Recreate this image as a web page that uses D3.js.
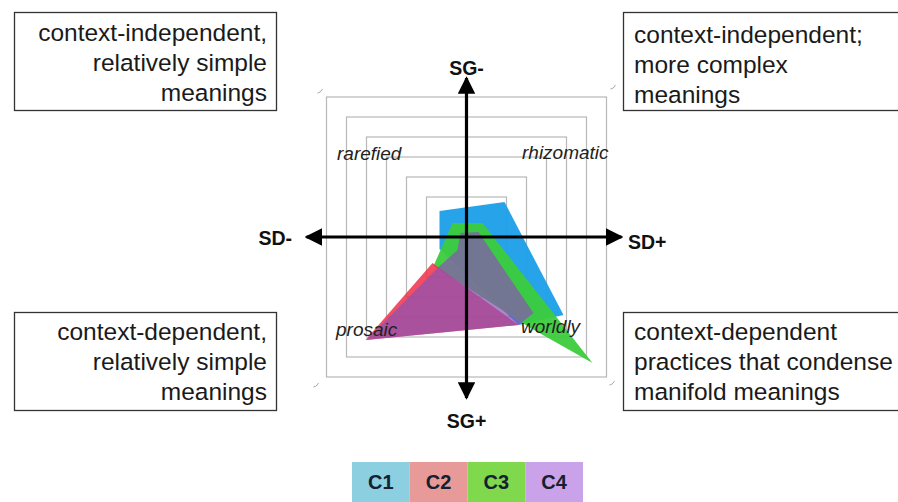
<!DOCTYPE html>
<html><head><meta charset="utf-8">
<script src="https://cdn.jsdelivr.net/npm/d3@7"></script>
<style>body{margin:0;background:#fff}svg{display:block}text{font-family:"Liberation Sans",Arial,sans-serif}</style>
</head><body><svg id="c" width="898" height="502"></svg>
<script>
// ---- data ----
const rings = [2, 3, 4, 5, 6, 7];
const seriesNames = ["C1", "C2", "C3", "C4"];
const seriesC1 = [[-1.35, 1.3], [1.9, 1.75], [4.85, -3.9], [2.6, -4.4], [-1.35, -0.6]];
const seriesC2 = [[-5.05, -5.15], [-1.7, -1.3], [2.6, -4.4]];
const seriesC3 = [[-0.7, 0.7], [0.8, 0.7], [6.3, -6.3], [3.2, -4.55], [-1.65, -1.45]];
const seriesC4 = [[-0.3, 0.2], [0.6, 0.25], [3.35, -3.8], [2.6, -4.4], [-5.0, -5.15], [-1.45, -1.55], [-0.45, -0.65]];
const quadrantLabels = ["rarefied", "rhizomatic", "prosaic", "worldly"];
const axisLabels = ["SG-", "SG+", "SD-", "SD+"];
const boxTL = ["context-independent,", "relatively simple", "meanings"];
const boxTR = ["context-independent;", "more complex", "meanings"];
const boxBL = ["context-dependent,", "relatively simple", "meanings"];
const boxBR = ["context-dependent", "practices that condense", "manifold meanings"];

const svg = d3.select("#c");
const x = d3.scaleLinear().domain([-8, 8]).range([306.5, 626.5]);
const y = d3.scaleLinear().domain([-8, 8]).range([397, 77]);

// rings
svg.append("g").selectAll("rect").data(rings).join("rect")
  .attr("x", d => x(-d)).attr("y", d => y(d))
  .attr("width", d => x(d) - x(-d)).attr("height", d => y(-d) - y(d))
  .attr("fill", "none").attr("stroke", "#b8b8b8").attr("stroke-width", 1.2);

// corner marks
const cm = [[-7.3, 7.3], [7.35, 7.5], [-7.5, -7.4], [7.3, -7.3]];
svg.append("g").selectAll("path").data(cm).join("path")
  .attr("d", d => `M${x(d[0]) - 3},${y(d[1]) + 2} q3,0 5,-4`)
  .attr("fill", "none").attr("stroke", "#aaa").attr("stroke-width", 1);

// polygons
const line = d3.line().x(d => x(d[0])).y(d => y(d[1]));
const polys = [
  {d: seriesC1, fill: "#1a9ee8", op: 0.95},
  {d: seriesC3, fill: "#3ccc3c", op: 0.95},
  {d: seriesC2, fill: "#f0304a", op: 0.85},
  {d: seriesC4, fill: "#8a52b4", op: 0.7}
];
svg.append("g").selectAll("path").data(polys).join("path")
  .attr("d", p => line(p.d) + "Z").attr("fill", p => p.fill).attr("fill-opacity", p => p.op);

// axes
const defs = svg.append("defs");
defs.append("marker").attr("id", "arr").attr("viewBox", "0 0 10 10").attr("refX", 9).attr("refY", 5)
  .attr("markerWidth", 5.5).attr("markerHeight", 5.5).attr("orient", "auto")
  .append("path").attr("d", "M0,0 L10,5 L0,10 Z").attr("fill", "#000");
const ax = svg.append("g").attr("stroke", "#000").attr("stroke-width", 3.2);
ax.append("line").attr("x1", x(0)).attr("x2", x(-8)).attr("y1", y(0)).attr("y2", y(0)).attr("marker-end", "url(#arr)");
ax.append("line").attr("x1", x(0)).attr("x2", x(7.75)).attr("y1", y(0)).attr("y2", y(0)).attr("marker-end", "url(#arr)");
ax.append("line").attr("x1", x(0)).attr("x2", x(0)).attr("y1", y(0)).attr("y2", y(7.95)).attr("marker-end", "url(#arr)");
ax.append("line").attr("x1", x(0)).attr("x2", x(0)).attr("y1", y(0)).attr("y2", y(-8.05)).attr("marker-end", "url(#arr)");

// axis labels
const al = [[x(0), 75, "middle"], [x(0), 428, "middle"], [292, 245, "end"], [628, 249, "start"]];
svg.append("g").selectAll("text").data(axisLabels).join("text")
  .attr("x", (d, i) => al[i][0]).attr("y", (d, i) => al[i][1]).attr("text-anchor", (d, i) => al[i][2])
  .attr("font-size", 19.5).attr("font-weight", "bold").attr("fill", "#111").text(d => d);

// quadrant labels
const ql = [[337, 160], [522, 159], [336, 336], [521, 333]];
svg.append("g").selectAll("text").data(quadrantLabels).join("text")
  .attr("x", (d, i) => ql[i][0]).attr("y", (d, i) => ql[i][1])
  .attr("font-size", 19).attr("font-style", "italic").attr("fill", "#222").text(d => d);

// boxes
function box(lines, bx, by, bw, bh, anchor, tx, ty0) {
  svg.append("rect").attr("x", bx).attr("y", by).attr("width", bw).attr("height", bh)
    .attr("fill", "#fff").attr("stroke", "#333").attr("stroke-width", 1.3);
  svg.append("g").selectAll("text").data(lines).join("text")
    .attr("x", tx).attr("y", (d, i) => ty0 + i * 30).attr("text-anchor", anchor)
    .attr("font-size", 24.5).attr("fill", "#1a1a1a").text(d => d);
}
box(boxTL, 14.5, 12.5, 262, 98, "end", 267, 41);
box(boxTR, 623.5, 12.5, 290, 98, "start", 634, 43);
box(boxBL, 14.5, 312.5, 262, 98, "end", 267, 340);
box(boxBR, 623.5, 312.5, 290, 98, "start", 634, 340);

// legend
const legColors = ["#8ccfe0", "#e89a98", "#80d84c", "#c9a2ea"];
const lx = d3.scaleBand().domain(seriesNames).range([352, 583]);
const lg = svg.append("g");
lg.selectAll("rect").data(seriesNames).join("rect")
  .attr("x", d => lx(d)).attr("y", 462).attr("width", lx.bandwidth()).attr("height", 40)
  .attr("fill", (d, i) => legColors[i]);
lg.selectAll("text").data(seriesNames).join("text")
  .attr("x", d => lx(d) + lx.bandwidth() / 2).attr("y", 489).attr("text-anchor", "middle")
  .attr("font-size", 20).attr("font-weight", "bold").attr("fill", "#152030").text(d => d);
</script></body></html>
